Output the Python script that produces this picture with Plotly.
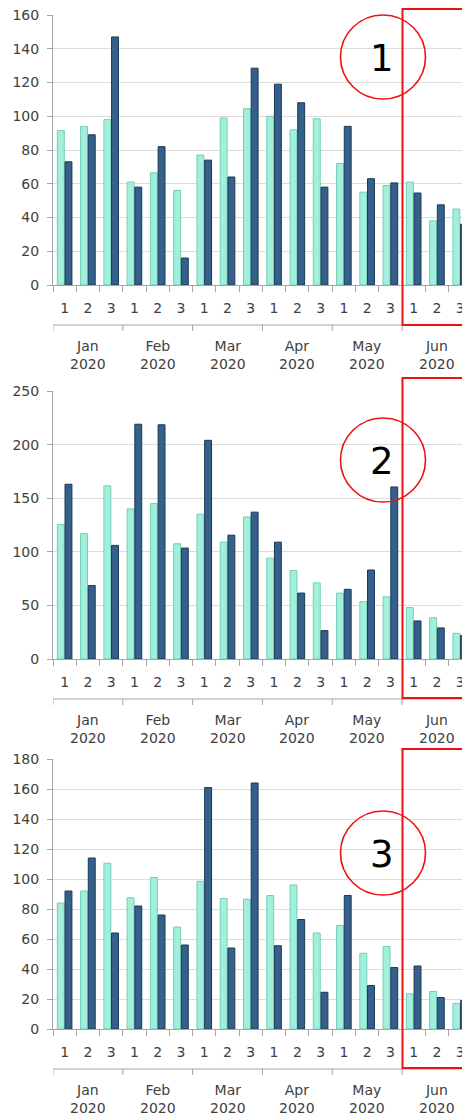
import plotly.graph_objects as go

# page offset (browser body margin) and figure size
OX, OY = 8, 8
PAGE_W, PAGE_H = 470, 1119
W, H = PAGE_W - OX, PAGE_H - OY

months = ["Jan", "Feb", "Mar", "Apr", "May", "Jun"]
year = "2020"
periods = ["1", "2", "3"]

p1_light = [91.5, 94, 98, 61, 66.5, 56, 77, 99, 104.5, 100, 92, 98.5, 72, 55, 59, 61, 38, 45]
p1_dark = [73, 89, 147, 58, 82, 16, 74, 64, 128.5, 119, 108, 58, 94, 63, 60.5, 54.5, 47.5, 36]
p2_light = [125.5, 117, 161.5, 140, 145, 107.5, 135, 109, 132.5, 94, 82.5, 71, 61.5, 53.5, 58, 48, 38.5, 24]
p2_dark = [163, 68.5, 106, 219, 218.5, 103.5, 204, 115.5, 137, 109, 61.5, 26.5, 65, 83, 160.5, 35.5, 29, 22]
p3_light = [84, 92, 110.5, 87.5, 101, 68, 98.5, 87, 86.5, 89, 96, 64, 69, 50.5, 55, 23.5, 25, 17]
p3_dark = [92, 114, 64, 82, 76, 56, 161, 54, 164, 55.5, 73, 24.5, 89, 29, 41, 42, 21, 19]

panel_labels = ["1", "2", "3"]
y_max = [160, 250, 180]
y_step = [20, 50, 20]

cats = [f"{m}-{p}" for m in months for p in periods]
tick_text = [p for m in months for p in periods]

LIGHT_FILL, LIGHT_LINE = "#a2f0dc", "#72cfb6"
DARK_FILL, DARK_LINE = "#34608a", "#1c3856"
AXIS_COL = "#a6a6a6"
GRID_COL = "#dcdcdc"
TXT_COL = "#404040"
FONT = "DejaVu Sans, sans-serif"
FS = 14

# page-pixel layout of each panel (top, bottom of plot area)
panels_px = [(15, 285), (391, 659), (759, 1029)]
rect_px = [(5, 325), (378, 698), (749, 1068)]
circle_cy = [57, 460, 853]
left_px = 53
x_end = 17.42


def px(p):
    return (p - OX) / W


def py(p):
    return 1 - (p - OY) / H


fig = go.Figure()
data = [(p1_light, p1_dark), (p2_light, p2_dark), (p3_light, p3_dark)]
shapes, annotations = [], []

for i, (light, dark) in enumerate(data):
    xa = "x" if i == 0 else f"x{i+1}"
    ya = "y" if i == 0 else f"y{i+1}"
    fig.add_trace(go.Bar(x=cats, y=light, xaxis=xa, yaxis=ya,
                         marker=dict(color=LIGHT_FILL, line=dict(color=LIGHT_LINE, width=1)),
                         showlegend=False, hoverinfo="skip"))
    fig.add_trace(go.Bar(x=cats, y=dark, xaxis=xa, yaxis=ya,
                         marker=dict(color=DARK_FILL, line=dict(color=DARK_LINE, width=1)),
                         showlegend=False, hoverinfo="skip"))
    top, bot = panels_px[i]
    xkey = "xaxis" if i == 0 else f"xaxis{i+1}"
    ykey = "yaxis" if i == 0 else f"yaxis{i+1}"
    fig.update_layout({
        xkey: dict(domain=[px(left_px), 1], anchor=ya, type="category",
                   categoryorder="array", categoryarray=cats, automargin=False,
                   range=[-0.5, x_end], tickmode="array", tickvals=cats, ticktext=tick_text,
                   tickson="boundaries", ticks="outside", ticklen=6, tickcolor=AXIS_COL,
                   showline=True, linecolor=AXIS_COL, linewidth=1, showgrid=False,
                   ticklabelstandoff=10, ticklabeloverflow="allow",
                   tickfont=dict(family=FONT, size=FS, color=TXT_COL)),
        ykey: dict(domain=[py(bot), py(top)], anchor=xa, range=[0, y_max[i]], automargin=False,
                   dtick=y_step[i], tick0=0, ticks="outside", ticklen=5, tickcolor=AXIS_COL,
                   showline=True, linecolor=AXIS_COL, linewidth=1,
                   showgrid=True, gridcolor=GRID_COL, gridwidth=1, zeroline=False,
                   ticklabelstandoff=5, ticklabeloverflow="allow",
                   tickfont=dict(family=FONT, size=FS, color=TXT_COL)),
    })
    # month bracket line
    line_y = bot + 40
    shapes.append(dict(type="line", xref=xa, yref="paper", x0=-0.5, x1=x_end,
                       y0=py(line_y), y1=py(line_y), line=dict(color=AXIS_COL, width=1)))
    for k in range(len(months)):
        xb = k * len(periods) - 0.5
        shapes.append(dict(type="line", xref=xa, yref="paper", x0=xb, x1=xb,
                           y0=py(line_y), y1=py(line_y + 6), line=dict(color=AXIS_COL, width=1)))
        annotations.append(dict(xref=xa, yref="paper", x=k * len(periods) + 1, y=py(bot + 70),
                                text=f"{months[k]}<br>{year}", showarrow=False,
                                xanchor="center", yanchor="middle",
                                font=dict(family=FONT, size=FS, color=TXT_COL)))
    # red highlight rectangle
    rt, rb = rect_px[i]
    shapes.append(dict(type="rect", xref="paper", yref="paper", x0=px(402.5), x1=px(469),
                       y0=py(rb), y1=py(max(rt, OY + 1)), line=dict(color="#ee1111", width=2)))
    cy = circle_cy[i]
    shapes.append(dict(type="circle", xref="paper", yref="paper", x0=px(340.5), x1=px(425.5),
                       y0=py(cy + 42), y1=py(cy - 42), line=dict(color="#ee1111", width=1.6)))
    annotations.append(dict(xref="paper", yref="paper", x=px(382), y=py(cy + 1),
                            text=panel_labels[i], showarrow=False, xanchor="center",
                            yanchor="middle", font=dict(family=FONT, size=37, color="#000000")))

fig.update_layout(width=W, height=H, margin=dict(l=0, r=0, t=0, b=0, autoexpand=False),
                  paper_bgcolor="white", plot_bgcolor="white",
                  barmode="group", bargap=0.34, bargroupgap=0.1,
                  shapes=shapes, annotations=annotations)

fig.write_html("out.html")
